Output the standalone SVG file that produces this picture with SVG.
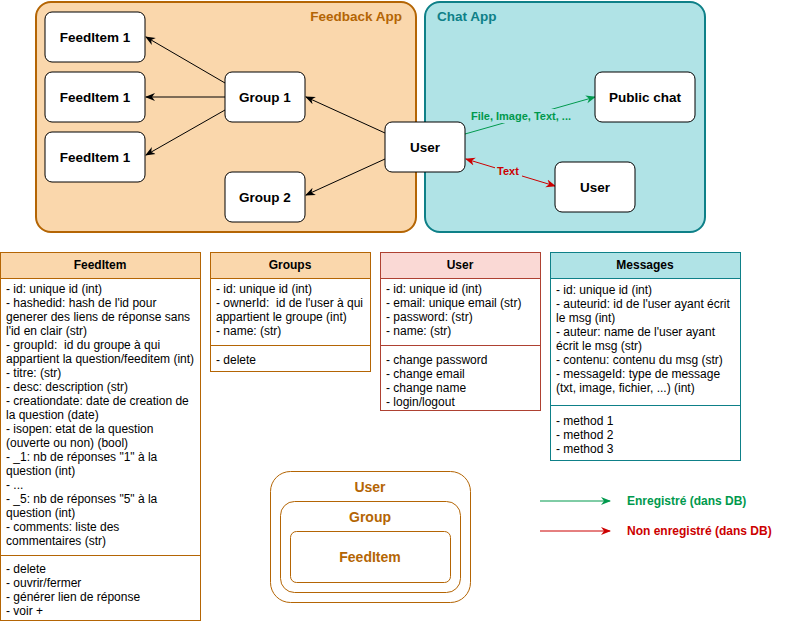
<svg xmlns="http://www.w3.org/2000/svg" width="801" height="622" viewBox="0 0 801 622">
<style>
text{font-family:"Liberation Sans",Arial,sans-serif;}
.node{fill:#fff;stroke:#000;stroke-width:1;}
.lbl{font-size:13.5px;font-weight:bold;fill:#000;text-anchor:middle;dominant-baseline:central;}
.hdr{font-size:12px;font-weight:bold;fill:#000;text-anchor:middle;dominant-baseline:central;}
.body{font-size:12px;fill:#000;dominant-baseline:central;white-space:pre;}
.conn{fill:none;stroke:#000;stroke-width:1;}
.leg{font-size:14px;font-weight:bold;fill:#b46504;text-anchor:middle;dominant-baseline:central;}
</style>
<defs>
<marker id="ab" viewBox="0 0 10 10" refX="9" refY="5" markerWidth="10" markerHeight="10" markerUnits="userSpaceOnUse" orient="auto-start-reverse"><path d="M0,1 L10,5 L0,9 L3,5 z" fill="#000"/></marker>
<marker id="ag" viewBox="0 0 10 10" refX="9" refY="5" markerWidth="10" markerHeight="10" markerUnits="userSpaceOnUse" orient="auto-start-reverse"><path d="M0,1 L10,5 L0,9 L3,5 z" fill="#00994D"/></marker>
<marker id="ar" viewBox="0 0 10 10" refX="9" refY="5" markerWidth="10" markerHeight="10" markerUnits="userSpaceOnUse" orient="auto-start-reverse"><path d="M0,1 L10,5 L0,9 L3,5 z" fill="#CC0000"/></marker>
</defs>

<g id="feedback-app">
<rect x="36" y="2" width="380" height="230" rx="15" fill="#fad7ac" stroke="#b46504" stroke-width="2"/>
<text x="402" y="16" style="font-size:13.5px;font-weight:bold;fill:#b46504;text-anchor:end;dominant-baseline:central;">Feedback App</text>
</g>
<g id="chat-app">
<rect x="425" y="2" width="280" height="230" rx="15" fill="#b0e3e6" stroke="#0e8088" stroke-width="2"/>
<text x="437" y="16" style="font-size:13.5px;font-weight:bold;fill:#0e8088;dominant-baseline:central;">Chat App</text>
</g>

<g id="connectors">
<line class="conn" x1="225" y1="83" x2="146" y2="37" marker-end="url(#ab)"/>
<line class="conn" x1="225" y1="97" x2="146" y2="97" marker-end="url(#ab)"/>
<line class="conn" x1="225" y1="110" x2="146" y2="155" marker-end="url(#ab)"/>
<line class="conn" x1="385" y1="133" x2="306" y2="97" marker-end="url(#ab)"/>
<line class="conn" x1="385" y1="159" x2="306" y2="195" marker-end="url(#ab)"/>
<line x1="465" y1="134" x2="595" y2="97" stroke="#00994D" stroke-width="1" marker-end="url(#ag)"/>
<rect x="470" y="109" width="102" height="14" fill="#b0e3e6"/>
<text x="521" y="116" style="font-size:11px;font-weight:bold;fill:#00994D;text-anchor:middle;dominant-baseline:central;">File, Image, Text, ...</text>
<line x1="466" y1="159" x2="555" y2="186" stroke="#CC0000" stroke-width="1" marker-start="url(#ar)" marker-end="url(#ar)"/>
<rect x="495" y="164" width="27" height="14" fill="#b0e3e6"/>
<text x="508" y="171" style="font-size:11px;font-weight:bold;fill:#CC0000;text-anchor:middle;dominant-baseline:central;">Text</text>
<line x1="540" y1="501" x2="610" y2="501" stroke="#00994D" stroke-width="1" marker-end="url(#ag)"/>
<line x1="540" y1="531" x2="610" y2="531" stroke="#CC0000" stroke-width="1" marker-end="url(#ar)"/>
</g>

<g id="feeditem-1a"><rect class="node" x="45" y="12" width="100" height="50" rx="7"/><text class="lbl" x="95" y="37">FeedItem 1</text></g>
<g id="feeditem-1b"><rect class="node" x="45" y="72" width="100" height="50" rx="7"/><text class="lbl" x="95" y="97">FeedItem 1</text></g>
<g id="feeditem-1c"><rect class="node" x="45" y="132" width="100" height="50" rx="7"/><text class="lbl" x="95" y="157">FeedItem 1</text></g>
<g id="group-1"><rect class="node" x="225" y="72" width="80" height="50" rx="7"/><text class="lbl" x="265" y="97">Group 1</text></g>
<g id="group-2"><rect class="node" x="225" y="172" width="80" height="50" rx="7"/><text class="lbl" x="265" y="197">Group 2</text></g>
<g id="user-main"><rect class="node" x="385" y="122" width="80" height="50" rx="7"/><text class="lbl" x="425" y="147">User</text></g>
<g id="public-chat"><rect class="node" x="595" y="72" width="100" height="50" rx="7"/><text class="lbl" x="645" y="97">Public chat</text></g>
<g id="user-other"><rect class="node" x="555" y="162" width="80" height="50" rx="7"/><text class="lbl" x="595" y="187">User</text></g>

<g id="table-feeditem">
<rect x="0.5" y="252.5" width="200" height="368" fill="#fff" stroke="#b46504"/>
<rect x="0.5" y="252.5" width="200" height="26" fill="#fad7ac" stroke="#b46504"/>
<line x1="0.5" y1="555.5" x2="200.5" y2="555.5" stroke="#b46504"/>
<text class="hdr" x="100" y="265">FeedItem</text>
<text class="body"><tspan x="6" y="289">- id: unique id (int)</tspan><tspan x="6" dy="14">- hashedid: hash de l'id pour</tspan><tspan x="6" dy="14">generer des liens de réponse sans</tspan><tspan x="6" dy="14">l'id en clair (str)</tspan><tspan x="6" dy="14">- groupId:  id du groupe à qui</tspan><tspan x="6" dy="14">appartient la question/feeditem (int)</tspan><tspan x="6" dy="14">- titre: (str)</tspan><tspan x="6" dy="14">- desc: description (str)</tspan><tspan x="6" dy="14">- creationdate: date de creation de</tspan><tspan x="6" dy="14">la question (date)</tspan><tspan x="6" dy="14">- isopen: etat de la question</tspan><tspan x="6" dy="14">(ouverte ou non) (bool)</tspan><tspan x="6" dy="14">- _1: nb de réponses "1" à la</tspan><tspan x="6" dy="14">question (int)</tspan><tspan x="6" dy="14">- ...</tspan><tspan x="6" dy="14">- _5: nb de réponses "5" à la</tspan><tspan x="6" dy="14">question (int)</tspan><tspan x="6" dy="14">- comments: liste des</tspan><tspan x="6" dy="14">commentaires (str)</tspan></text>
<text class="body"><tspan x="6" y="569">- delete</tspan><tspan x="6" dy="14">- ouvrir/fermer</tspan><tspan x="6" dy="14">- générer lien de réponse</tspan><tspan x="6" dy="14">- voir +</tspan></text>
</g>

<g id="table-groups">
<rect x="210.5" y="252.5" width="160" height="119" fill="#fff" stroke="#b46504"/>
<rect x="210.5" y="252.5" width="160" height="26" fill="#fad7ac" stroke="#b46504"/>
<line x1="210.5" y1="345.5" x2="370.5" y2="345.5" stroke="#b46504"/>
<text class="hdr" x="290" y="265">Groups</text>
<text class="body"><tspan x="216" y="289">- id: unique id (int)</tspan><tspan x="216" dy="14">- ownerId:  id de l'user à qui</tspan><tspan x="216" dy="14">appartient le groupe (int)</tspan><tspan x="216" dy="14">- name: (str)</tspan></text>
<text class="body" x="216" y="360">- delete</text>
</g>

<g id="table-user">
<rect x="380.5" y="252.5" width="160" height="158" fill="#fff" stroke="#ae4132"/>
<rect x="380.5" y="252.5" width="160" height="26" fill="#fad9d5" stroke="#ae4132"/>
<line x1="380.5" y1="345.5" x2="540.5" y2="345.5" stroke="#ae4132"/>
<text class="hdr" x="460" y="265">User</text>
<text class="body"><tspan x="386" y="289">- id: unique id (int)</tspan><tspan x="386" dy="14">- email: unique email (str)</tspan><tspan x="386" dy="14">- password: (str)</tspan><tspan x="386" dy="14">- name: (str)</tspan></text>
<text class="body"><tspan x="386" y="360">- change password</tspan><tspan x="386" dy="14">- change email</tspan><tspan x="386" dy="14">- change name</tspan><tspan x="386" dy="14">- login/logout</tspan></text>
</g>

<g id="table-messages">
<rect x="550.5" y="252.5" width="190" height="208" fill="#fff" stroke="#0e8088"/>
<rect x="550.5" y="252.5" width="190" height="26" fill="#b0e3e6" stroke="#0e8088"/>
<line x1="550.5" y1="405.5" x2="740.5" y2="405.5" stroke="#0e8088"/>
<text class="hdr" x="645" y="265">Messages</text>
<text class="body"><tspan x="556" y="290">- id: unique id (int)</tspan><tspan x="556" dy="14">- auteurid: id de l'user ayant écrit</tspan><tspan x="556" dy="14">le msg (int)</tspan><tspan x="556" dy="14">- auteur: name de l'user ayant</tspan><tspan x="556" dy="14">écrit le msg (str)</tspan><tspan x="556" dy="14">- contenu: contenu du msg (str)</tspan><tspan x="556" dy="14">- messageId: type de message</tspan><tspan x="556" dy="14">(txt, image, fichier, ...) (int)</tspan></text>
<text class="body"><tspan x="556" y="421">- method 1</tspan><tspan x="556" dy="14">- method 2</tspan><tspan x="556" dy="14">- method 3</tspan></text>
</g>

<g id="legend-user">
<rect x="270.5" y="471.5" width="200" height="131" rx="20" fill="#fff" stroke="#b46504"/>
<text class="leg" x="370" y="487">User</text>
</g>
<g id="legend-group">
<rect x="280.5" y="501.5" width="180" height="91" rx="14" fill="#fff" stroke="#b46504"/>
<text class="leg" x="370" y="517">Group</text>
</g>
<g id="legend-feeditem">
<rect x="290.5" y="531.5" width="160" height="51" rx="6" fill="#fff" stroke="#b46504"/>
<text class="leg" x="370" y="557">FeedItem</text>
</g>

<g id="legend-keys">
<text x="627" y="501" style="font-size:12px;font-weight:bold;fill:#00994D;dominant-baseline:central;">Enregistré (dans DB)</text>
<text x="627" y="531" style="font-size:12px;font-weight:bold;fill:#CC0000;dominant-baseline:central;">Non enregistré (dans DB)</text>
</g>
</svg>
